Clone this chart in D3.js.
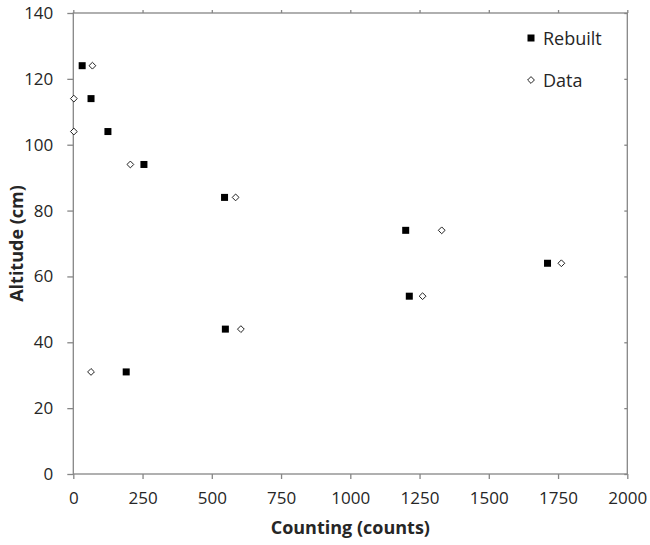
<!DOCTYPE html>
<html><head><meta charset="utf-8">
<script src="https://cdn.jsdelivr.net/npm/d3@7"></script>
<style>body{margin:0;background:#fff}svg{display:block}text{font-family:"Open Sans",sans-serif;fill:#262626}</style>
</head><body><svg id="c" width="650" height="545"></svg>
<script>
const xTicks=[0,250,500,750,1000,1250,1500,1750,2000];
const yTicks=[0,20,40,60,80,100,120,140];
const rebuiltX=[32,64,125,255,546,1200,1213,1712,549,191];
const rebuiltY=[124,114,104,94,84,74,54,64,44,31];
const dataX=[69,2,2,206,586,1330,1261,1762,605,64];
const dataY=[124,114,104,94,84,74,54,64,44,31];
const seriesNames=["Rebuilt","Data"];

const svg=d3.select("#c");
const L=73.3,R=627.3,T=13,B=474;
const x=d3.scaleLinear().domain([0,2000]).range([L,R]);
const y=d3.scaleLinear().domain([0,140]).range([B,T]);
const axCol="#868686";

svg.append("rect").attr("x",L).attr("y",T).attr("width",R-L).attr("height",B-T)
 .attr("fill","none").attr("stroke",axCol).attr("stroke-width",1.3);

const gx=svg.append("g").attr("transform",`translate(0,${B})`)
 .call(d3.axisBottom(x).tickValues(xTicks).tickSize(5).tickPadding(13).tickFormat(d3.format("d")));
const gy=svg.append("g").attr("transform",`translate(${L},0)`)
 .call(d3.axisLeft(y).tickValues(yTicks).tickSize(6).tickPadding(14).tickFormat(d3.format("d")));
const gt=svg.append("g").attr("transform",`translate(0,${T})`)
 .call(d3.axisTop(x).tickValues(xTicks).tickSize(3).tickFormat(""));
const gr=svg.append("g").attr("transform",`translate(${R},0)`)
 .call(d3.axisRight(y).tickValues(yTicks).tickSize(-3).tickFormat(""));
[gx,gy,gt,gr].forEach(g=>{
  g.select(".domain").remove();
  g.selectAll(".tick line").attr("stroke",axCol).attr("stroke-width",1.3);
  g.selectAll(".tick text").style("font-size","17px").attr("fill","#262626");
});

svg.append("text").attr("x",(L+R)/2).attr("y",534).attr("text-anchor","middle")
 .style("font-size","18px").style("font-weight","bold").text("Counting (counts)");
svg.append("text").attr("transform",`translate(23,${(T+B)/2}) rotate(-90)`).attr("text-anchor","middle")
 .style("font-size","18px").style("font-weight","bold").text("Altitude (cm)");

const sq=7, dh=3.4;
const diamond=`M0,${-dh}L${dh},0L0,${dh}L${-dh},0Z`;

svg.append("g").selectAll("rect").data(rebuiltX.map((v,i)=>[v,rebuiltY[i]])).join("rect")
 .attr("x",d=>x(d[0])-sq/2).attr("y",d=>y(d[1])-sq/2).attr("width",sq).attr("height",sq).attr("fill","#000");
svg.append("g").selectAll("path").data(dataX.map((v,i)=>[v,dataY[i]])).join("path")
 .attr("d",diamond).attr("transform",d=>`translate(${x(d[0])},${y(d[1])})`)
 .attr("fill","#fff").attr("stroke","#222").attr("stroke-width",1);

const lg=svg.append("g");
lg.append("rect").attr("x",531-sq/2).attr("y",38-sq/2).attr("width",sq).attr("height",sq).attr("fill","#000");
lg.append("text").attr("x",543).attr("y",44.5).style("font-size","18px").text(seriesNames[0]);
lg.append("path").attr("d",diamond).attr("transform","translate(531,80)").attr("fill","#fff").attr("stroke","#222");
lg.append("text").attr("x",543).attr("y",86.5).style("font-size","18px").text(seriesNames[1]);
</script></body></html>
